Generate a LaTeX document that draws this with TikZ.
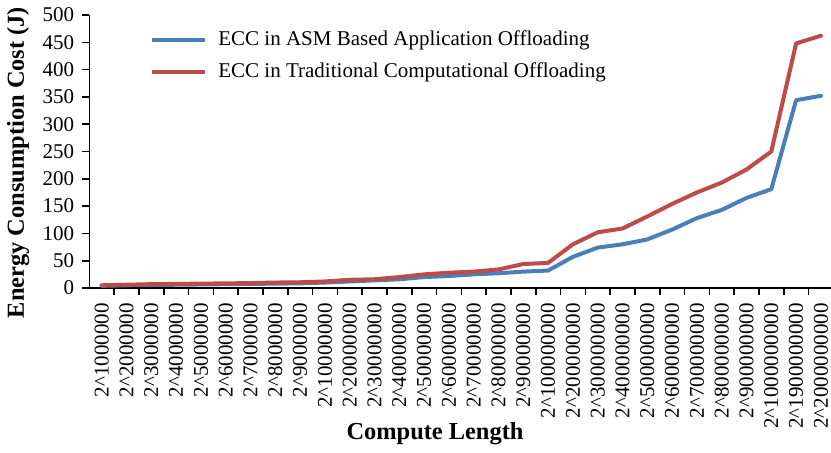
\documentclass[tikz,border=0pt]{standalone}
\usepackage{fontspec}
\setmainfont{Liberation Serif}
\usepackage{xcolor}
\usepackage{tikz}
\usetikzlibrary{positioning, calc}

\definecolor{asmblue}{RGB}{74,126,187}
\definecolor{tradred}{RGB}{190,75,72}

\begin{document}
\begin{tikzpicture}[x=0.5pt, y=0.5pt, font=\fontsize{10.5}{12}\selectfont,
  axis/.style={line width=0.8pt},
  ecc/.style={line width=2pt, line join=round, line cap=round},
  title/.style={font=\fontsize{12.2}{14}\selectfont\bfseries}]
  \useasboundingbox (0,0) rectangle (831,452);
  % legend
  \coordinate (la) at (152,412);
  \coordinate (lb) at (205,412);
  \coordinate (lc) at (152,380);
  \coordinate (ld) at (205,380);
  \draw[ecc, asmblue, line cap=butt] (la) -- (lb);
  \draw[ecc, tradred, line cap=butt] (lc) -- (ld);
  \node[anchor=west, inner sep=0, right=6.5pt of lb] (asm) {ECC in ASM Based Application Offloading};
  \node[anchor=west, inner sep=0, right=6.5pt of ld] (trad) {ECC in Traditional Computational Offloading};
  % axis titles
  \node[title, rotate=90] (ytitle) at (18,289.5) {Energy Consumption Cost (J)};
  \node[title] (xtitle) at (435,18) {Compute Length};
  \begin{scope}[shift={(89.3,164)}, x=12.4pt, y=0.273pt]
    \draw[axis] (0,500) -- (0,0) -- (29.9,0);
    \foreach \v in {0,50,...,500}
      \draw[axis] (0,\v) -- ++(-3.5pt,0) node[left=3.7pt, inner sep=0] {\v};
    \foreach \i in {1,...,29}
      \draw[axis] (\i,0) -- ++(0,-3.5pt);
    \foreach \lab [count=\i] in {1000000,2000000,3000000,4000000,5000000,6000000,7000000,8000000,9000000,10000000,20000000,30000000,40000000,50000000,60000000,70000000,80000000,90000000,100000000,200000000,300000000,400000000,500000000,600000000,700000000,800000000,900000000,1000000000,1900000000,2000000000}
      \node[rotate=90, anchor=east, inner sep=0] (x\i) at ($(\i-0.5,0)+(0,-7.5pt)$) {2\textasciicircum\lab};
    % data
    \draw[ecc, asmblue] plot coordinates {(0.5,4) (1.5,5) (2.5,5.5) (3.5,6) (4.5,6.5) (5.5,7) (6.5,7.5) (7.5,8) (8.5,8.5) (9.5,10) (10.5,12) (11.5,14) (12.5,16) (13.5,20) (14.5,22) (15.5,25) (16.5,27) (17.5,30) (18.5,32) (19.5,57) (20.5,74) (21.5,80) (22.5,89) (23.5,107) (24.5,128) (25.5,143) (26.5,165) (27.5,181) (28.5,344) (29.5,352)};
    \draw[ecc, tradred] plot coordinates {(0.5,5) (1.5,6) (2.5,7) (3.5,7.5) (4.5,8) (5.5,8.5) (6.5,9) (7.5,10) (8.5,10.5) (9.5,12) (10.5,15) (11.5,16) (12.5,20) (13.5,25) (14.5,28) (15.5,30) (16.5,34) (17.5,44) (18.5,46) (19.5,80) (20.5,102) (21.5,109) (22.5,131) (23.5,154) (24.5,175) (25.5,193) (26.5,217) (27.5,250) (28.5,448) (29.5,462)};
  \end{scope}
\end{tikzpicture}
\end{document}
